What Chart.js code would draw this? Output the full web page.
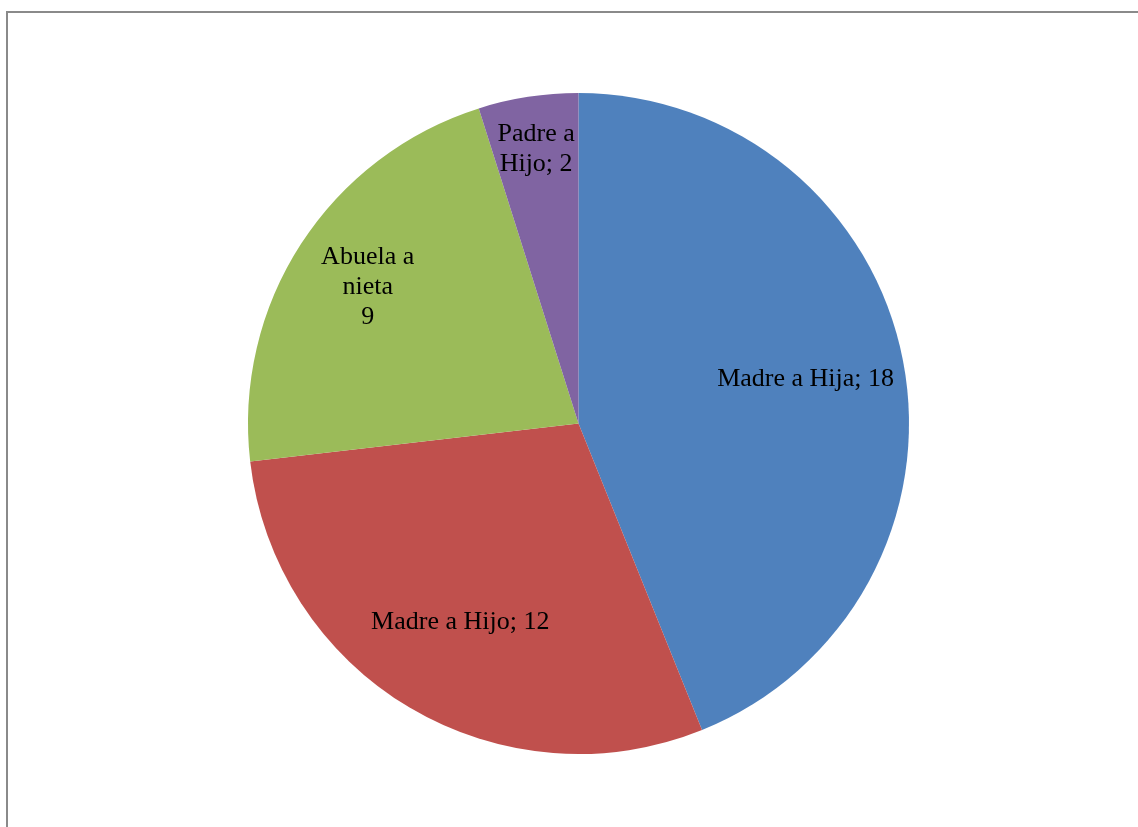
<!DOCTYPE html>
<html>
<head>
<meta charset="utf-8">
<script src="https://cdn.jsdelivr.net/npm/chart.js@4/dist/chart.umd.min.js"></script>
<style>
    html, body { margin: 0; padding: 0; background: #fff; overflow: hidden; }
    #wrap { position: relative; width: 1138px; height: 827px; }
    #frame {
        position: absolute; left: 6px; top: 11px;
        width: 1200px; height: 900px;
        border-left: 2px solid #8a8a8a; border-top: 2px solid #8a8a8a;
    }
    canvas { position: absolute; left: 0; top: 0; }
</style>
</head>
<body>
<div id="wrap">
    <div id="frame"></div>
    <canvas id="pie" width="1138" height="827"></canvas>
</div>
<script>
const categories = ['Madre a Hija', 'Madre a Hijo', 'Abuela a nieta', 'Padre a Hijo'];
const values = [18, 12, 9, 2];
const colors = ['#4F81BD', '#C0504D', '#9BBB59', '#8064A2'];

// how each label wraps inside its slice
const labelLines = [
    [categories[0] + '; ' + values[0]],
    [categories[1] + '; ' + values[1]],
    ['Abuela a', 'nieta', String(values[2])],
    ['Padre a', 'Hijo; ' + values[3]]
];
// distance of each label from the centre, as part of the radius
const labelDist = [0.7, 0.7, 0.76, 0.84];

const sliceLabels = {
    id: 'sliceLabels',
    afterDatasetsDraw(chart) {
        const ctx = chart.ctx;
        const arcs = chart.getDatasetMeta(0).data;
        ctx.save();
        ctx.font = '26px "Liberation Serif", "Times New Roman", serif';
        ctx.fillStyle = '#000';
        ctx.textAlign = 'center';
        ctx.textBaseline = 'middle';
        arcs.forEach((arc, i) => {
            const p = arc.getProps(['x', 'y', 'startAngle', 'endAngle', 'outerRadius'], true);
            const mid = (p.startAngle + p.endAngle) / 2;
            const r = p.outerRadius * labelDist[i];
            const cx = p.x + Math.cos(mid) * r;
            const cy = p.y + Math.sin(mid) * r;
            const lines = labelLines[i];
            const lh = 30;
            lines.forEach((t, k) => {
                ctx.fillText(t, cx, cy + (k - (lines.length - 1) / 2) * lh);
            });
        });
        ctx.restore();
    }
};

new Chart(document.getElementById('pie'), {
    type: 'pie',
    data: {
        labels: categories,
        datasets: [{
            data: values,
            backgroundColor: colors,
            borderWidth: 0
        }]
    },
    options: {
        responsive: false,
        animation: false,
        layout: { padding: { left: 248, right: 229, top: 93, bottom: 73 } },
        plugins: {
            legend: { display: false },
            tooltip: { enabled: false }
        }
    },
    plugins: [sliceLabels]
});
</script>
</body>
</html>
